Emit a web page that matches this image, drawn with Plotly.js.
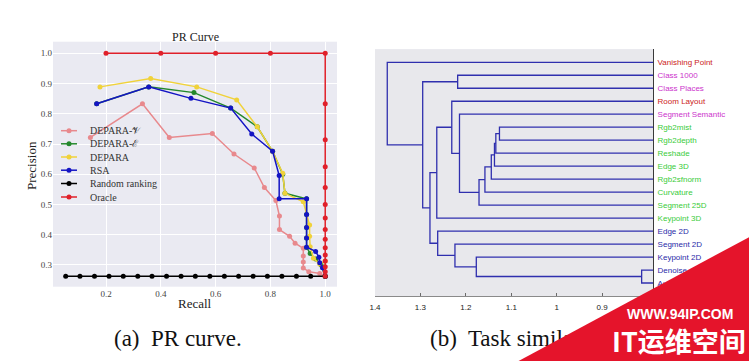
<!DOCTYPE html>
<html><head><meta charset="utf-8">
<script src="https://cdn.plot.ly/plotly-3.0.1.min.js"></script>
<style>html,body{margin:0;padding:0;background:#fff;overflow:hidden}#chart{width:749px;height:361px}</style>
</head><body><div id="chart"></div>
<script>
// ---------------- PR curve data ----------------
const seriesNames = ['DEPARA-𝒱', 'DEPARA-ℰ', 'DEPARA', 'RSA', 'Random ranking', 'Oracle'];
const seriesColors = ['#e8898d', '#24882c', '#f0d23a', '#1414c4', '#000000', '#e0202a'];

const deparaVRecall    = [0.143,0.333,0.431,0.588,0.667,0.741,0.778,0.820,0.833,0.833,0.870,0.890,0.920,0.920,0.920,0.920,0.940,0.980,1.000];
const deparaVPrecision = [0.722,0.833,0.722,0.735,0.667,0.621,0.556,0.513,0.462,0.417,0.395,0.372,0.355,0.330,0.310,0.290,0.278,0.272,0.263];

const deparaERecall    = [0.166,0.356,0.521,0.655,0.752,0.808,0.845,0.853,0.932,0.932,0.932,0.932,0.932,0.945,0.965,0.985,1.000];
const deparaEPrecision = [0.833,0.889,0.870,0.819,0.757,0.676,0.600,0.537,0.519,0.467,0.424,0.389,0.359,0.338,0.320,0.300,0.263];

const deparaRecall     = [0.178,0.363,0.531,0.677,0.752,0.808,0.845,0.853,0.920,0.943,0.943,0.945,0.957,0.980,1.000,1.000];
const deparaPrecision  = [0.889,0.917,0.889,0.846,0.757,0.676,0.603,0.537,0.509,0.432,0.395,0.360,0.322,0.303,0.313,0.263];

const rsaRecall        = [0.166,0.356,0.510,0.655,0.732,0.808,0.832,0.832,0.932,0.932,0.932,0.932,0.932,0.965,0.977,0.980,0.990,1.000];
const rsaPrecision     = [0.833,0.889,0.851,0.819,0.733,0.676,0.596,0.519,0.519,0.467,0.424,0.389,0.359,0.345,0.326,0.307,0.291,0.263];

const randomRecall     = [0.053,0.105,0.158,0.211,0.263,0.316,0.368,0.421,0.474,0.526,0.579,0.632,0.684,0.737,0.789,0.842,0.895,0.947,1.000];
const randomPrecision  = [0.263,0.263,0.263,0.263,0.263,0.263,0.263,0.263,0.263,0.263,0.263,0.263,0.263,0.263,0.263,0.263,0.263,0.263,0.263];

const oracleRecall     = [0.2,0.4,0.6,0.8,1.0,1.0,1.0,1.0,1.0,1.0,1.0,1.0,1.0,1.0,1.0,1.0,1.0,1.0,1.0];
const oraclePrecision  = [1.0,1.0,1.0,1.0,1.0,0.833,0.714,0.625,0.556,0.500,0.455,0.417,0.385,0.357,0.333,0.313,0.294,0.278,0.263];

const prTickVals = [0.2,0.4,0.6,0.8,1.0];
const precisionTickVals = [0.3,0.4,0.5,0.6,0.7,0.8,0.9,1.0];

// ---------------- Task similarity tree data ----------------
const leafLabels = ['Vanishing Point','Class 1000','Class Places','Room Layout','Segment Semantic',
  'Rgb2mist','Rgb2depth','Reshade','Edge 3D','Rgb2sfnorm','Curvature','Segment 25D','Keypoint 3D',
  'Edge 2D','Segment 2D','Keypoint 2D','Denoise','Autoencoder'];
const leafColors = ['#cc2222','#cc33cc','#cc33cc','#cc2222','#cc33cc',
  '#3acc3a','#3acc3a','#3acc3a','#3acc3a','#3acc3a','#3acc3a','#3acc3a','#3acc3a',
  '#2a2aa8','#2a2aa8','#2a2aa8','#2a2aa8','#2a2aa8'];
// merges: node ids 0..17 are leaves, merge k creates node 18+k
const mergeLeft   = [16, 5, 19, 20, 21, 22, 23, 18, 24, 1, 25, 26, 28, 29, 31, 27, 0];
const mergeRight  = [17, 6, 7, 8, 9, 10, 11, 15, 4, 2, 14, 3, 13, 12, 30, 32, 33];
const mergeHeight = [0.813,1.126,1.134,1.137,1.144,1.158,1.171,1.177,1.214,1.218,1.224,1.231,1.262,1.264,1.279,1.295,1.373];
const distTickVals = [1.4,1.3,1.2,1.1,1.0,0.9,0.8];
const distTickText = ['1.4','1.3','1.2','1.1','1','0.9','0.8'];

// ---------------- figure geometry ----------------
const W = 749, H = 361;
const px = X => X / W, py = Y => 1 - Y / H;
const SERIF = 'Liberation Serif, DejaVu Serif, serif';
const SANS = 'Liberation Sans, Arial, sans-serif';

const prSeries = [
  [deparaVRecall, deparaVPrecision],
  [deparaERecall, deparaEPrecision],
  [deparaRecall, deparaPrecision],
  [rsaRecall, rsaPrecision],
  [randomRecall, randomPrecision],
  [oracleRecall, oraclePrecision]
];
const traces = prSeries.map((s, i) => ({
  type: 'scatter', mode: 'lines+markers', x: s[0], y: s[1], name: seriesNames[i],
  xaxis: 'x', yaxis: 'y', showlegend: false, cliponaxis: false,
  line: {color: seriesColors[i], width: 1.5},
  marker: {color: seriesColors[i], size: 5}
}));

// dendrogram segments
const nodeY = leafLabels.map((_, i) => i + 1);
const nodeH = leafLabels.map(() => 0);
const dx = [], dy = [];
mergeLeft.forEach((a, k) => {
  const b = mergeRight[k], h = mergeHeight[k];
  dx.push(nodeH[a], h, h, nodeH[b], null);
  dy.push(nodeY[a], nodeY[a], nodeY[b], nodeY[b], null);
  nodeY.push((nodeY[a] + nodeY[b]) / 2);
  nodeH.push(h);
});
traces.push({type: 'scatter', mode: 'lines', x: dx, y: dy, xaxis: 'x2', yaxis: 'y2',
  showlegend: false, line: {color: '#2f2fae', width: 1.3}, hoverinfo: 'skip'});

const ann = (X, Y, text, font, extra) => Object.assign({xref: 'paper', yref: 'paper', x: px(X), y: py(Y),
  xanchor: 'center', yanchor: 'middle', showarrow: false, text: text, font: font}, extra || {});

// manual legend (compact, like the original)
const legendRows = [130.7, 143.8, 157.0, 170.2, 183.5, 197.0];
const shapes = [], annotations = [];
seriesNames.forEach((n, i) => {
  const Y = legendRows[i];
  shapes.push({type: 'line', xref: 'paper', yref: 'paper', x0: px(61), x1: px(77), y0: py(Y), y1: py(Y),
    line: {color: seriesColors[i], width: 1.5}});
  shapes.push({type: 'circle', xref: 'paper', yref: 'paper', x0: px(66.5), x1: px(71.5), y0: py(Y + 2.5), y1: py(Y - 2.5),
    fillcolor: seriesColors[i], line: {color: seriesColors[i], width: 0}});
  annotations.push(ann(88, Y, n, {family: SERIF, size: 10, color: '#333'}, {xanchor: 'left'}));
});

annotations.push(
  ann(195, 37, 'PR Curve', {family: SERIF, size: 12, color: '#222'}),
  ann(195, 303, 'Recall', {family: SERIF, size: 13, color: '#222'}),
  ann(31, 165, 'Precision', {family: SERIF, size: 13, color: '#222'}, {textangle: -90}),
  ann(178, 338, '(a)&nbsp; PR curve.', {family: SERIF, size: 23, color: '#111'}),
  ann(428, 338, '(b)&nbsp; Task similarity tree.', {family: SERIF, size: 23, color: '#111'}, {xanchor: 'left'}),
  // watermark overlay
  ann(706.5, 432.1, '&nbsp;', {size: 10, color: '#e5142b'}, {width: 500, height: 300, textangle: -28.26, bgcolor: '#e5142b'}),
  ann(680, 314, '<b>WWW.94IP.COM</b>', {family: SANS, size: 14, color: '#ffffff'}),
  ann(679, 340, '<b>IT运维空间</b>', {family: 'Noto Sans CJK SC, sans-serif', size: 27, color: '#ffffff'})
);

const layout = {
  width: W, height: H, margin: {l: 0, r: 0, t: 0, b: 0, autoexpand: false},
  paper_bgcolor: '#ffffff', showlegend: false,
  xaxis: {domain: [px(53), px(337)], range: [0.0066, 1.043], tickvals: prTickVals, tickformat: '.1f',
    showgrid: true, gridcolor: '#ffffff', gridwidth: 1, zeroline: false, showline: false, ticks: '',
    tickfont: {family: SERIF, size: 9, color: '#444'}, anchor: 'y', fixedrange: true},
  yaxis: {domain: [py(286.7), py(41.7)], range: [0.2282, 1.0384], tickvals: precisionTickVals, tickformat: '.1f',
    showgrid: true, gridcolor: '#ffffff', gridwidth: 1, zeroline: false, showline: false, ticks: '',
    tickfont: {family: SERIF, size: 9, color: '#444'}, anchor: 'x', fixedrange: true},
  xaxis2: {domain: [px(375), px(653)], range: [1.4, 0.788], tickvals: distTickVals, ticktext: distTickText,
    showgrid: false, zeroline: false, showline: true, linecolor: '#8a8a8a', linewidth: 1,
    ticks: 'inside', ticklen: 3, tickcolor: '#6a6a6a', ticklabelstandoff: 3,
    tickfont: {family: SANS, size: 8, color: '#222'}, anchor: 'y2', fixedrange: true},
  yaxis2: {domain: [py(296), py(49.3)], range: [19, 0], side: 'right',
    tickvals: leafLabels.map((_, i) => i + 1),
    ticktext: leafLabels.map((l, i) => '<span style="color:' + leafColors[i] + '">' + l + '</span>'),
    showgrid: false, zeroline: false, showline: true, linecolor: '#3a3a3a', linewidth: 1, ticks: '',
    ticklabelstandoff: 2, tickfont: {family: SANS, size: 8, color: '#222'}, anchor: 'x2', fixedrange: true},
  plot_bgcolor: '#eaeaf2',
  shapes: shapes.concat([
    {type: 'rect', xref: 'x2 domain', yref: 'y2 domain', x0: 0, x1: 1, y0: 0, y1: 1, layer: 'below',
     fillcolor: '#e8e8ec', line: {width: 0}}
  ]),
  annotations: annotations
};

Plotly.newPlot('chart', traces, layout, {staticPlot: true, displayModeBar: false});
</script></body></html>
